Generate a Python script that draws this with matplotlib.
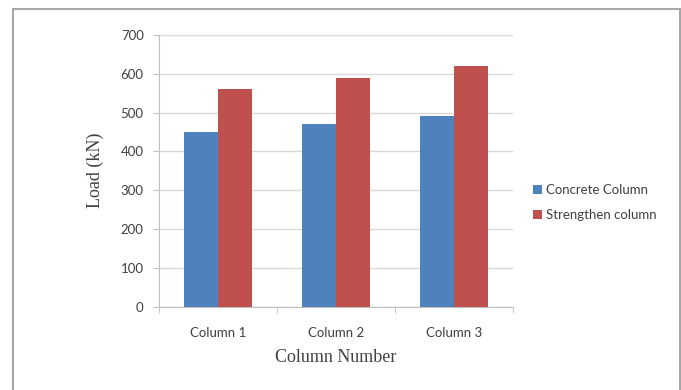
import matplotlib.pyplot as plt
import numpy as np
from matplotlib.patches import Rectangle

# Load tests per column
columns = ["Column 1", "Column 2", "Column 3"]
concrete = [450, 470, 490]
strengthened = [560, 590, 620]
series_names = ["Concrete Column", "Strengthen column"]
y_ticks = [0, 100, 200, 300, 400, 500, 600, 700]

blue = "#4F81BD"
red = "#C0504D"
grey_text = "#404040"
grid_col = "#D9D9D9"
axis_col = "#BFBFBF"

fig = plt.figure(figsize=(6.81, 3.90), dpi=100)
W, H = 681, 390
ax = fig.add_axes([159 / W, 1 - 306.5 / H, (513 - 159) / W, (306.5 - 35) / H])

x = np.arange(len(columns))
bw = 0.29
ax.bar(x - bw / 2, concrete, bw, color=blue, label=series_names[0], zorder=3)
ax.bar(x + bw / 2, strengthened, bw, color=red, label=series_names[1], zorder=3)

ax.set_xlim(-0.5, len(columns) - 0.5)
ax.set_ylim(0, 700)
ax.set_yticks(y_ticks)
ax.yaxis.grid(True, color=grid_col, linewidth=1, zorder=0)

tick_font = "Lato"
ax.set_xticks(x)
ax.set_xticklabels(columns, fontsize=9.5, color=grey_text, family=tick_font)
ax.set_xticks(np.arange(len(columns) + 1) - 0.5, minor=True)
ax.tick_params(axis="x", which="major", length=0, pad=15)
ax.tick_params(axis="x", which="minor", length=4, color=axis_col, direction="out")
ax.tick_params(axis="y", length=4, color=axis_col, labelsize=9.5,
               labelcolor=grey_text, pad=7)
for lab in ax.get_yticklabels():
    lab.set_family(tick_font)

for s in ["top", "right"]:
    ax.spines[s].set_visible(False)
ax.spines["left"].set_color(axis_col)
ax.spines["bottom"].set_color(axis_col)

ax.set_xlabel("Column Number", fontsize=13, family="Liberation Serif",
              color="#404040", labelpad=7)
ax.set_ylabel("Load (kN)", fontsize=13, family="Liberation Serif",
              color="#404040", labelpad=12)

fig.legend(loc="upper left", bbox_to_anchor=(521 / W, 1 - 172 / H),
           frameon=False, prop={"family": tick_font, "size": 9.5},
           handlelength=0.7, handleheight=0.7, handletextpad=0.3,
           labelspacing=1.0, labelcolor=grey_text)

# chart border
fig.patches.append(Rectangle((12.5 / W, -0.05), (680 - 12.5) / W, 1.05 - 9 / H,
                             transform=fig.transFigure, fill=False,
                             edgecolor="#A6A6A6", linewidth=1.5))

fig.savefig("out.png", dpi=100)
